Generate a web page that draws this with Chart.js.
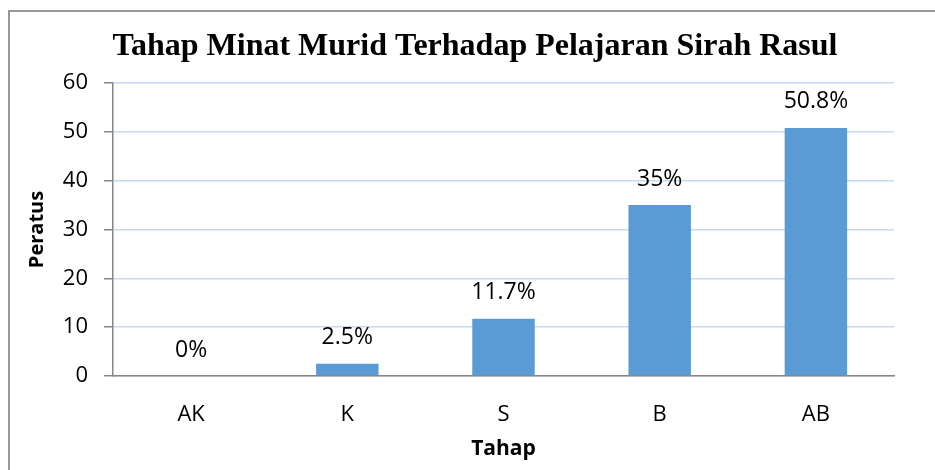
<!DOCTYPE html>
<html>
<head>
<meta charset="utf-8">
<script src="https://cdn.jsdelivr.net/npm/chart.js@4"></script>
<style>
  html, body { margin: 0; padding: 0; background: #fff; }
  #wrap { position: relative; width: 935px; height: 470px; overflow: hidden; }
  #frame { position: absolute; left: 8px; top: 10px; width: 1000px; height: 1000px;
           border-top: 2px solid #989898; border-left: 2px solid #989898; }
  canvas { position: absolute; left: 0; top: 0; }
</style>
</head>
<body>
<div id="wrap">
  <div id="frame"></div>
  <canvas id="chart" width="935" height="470"></canvas>
</div>
<script>
// data
const categories = ['AK', 'K', 'S', 'B', 'AB'];
const peratus = [0, 2.5, 11.7, 35, 50.8];
const yTicks = [0, 10, 20, 30, 40, 50, 60];
const chartTitle = 'Tahap Minat Murid Terhadap Pelajaran Sirah Rasul';

const sansFont = "'Open Sans', 'Liberation Sans', sans-serif";

// write the percentage above each bar
const barLabels = {
  id: 'barLabels',
  afterDatasetsDraw(chart) {
    const ctx = chart.ctx;
    const meta = chart.getDatasetMeta(0);
    ctx.save();
    ctx.font = '23px ' + sansFont;
    ctx.fillStyle = '#000';
    ctx.textAlign = 'center';
    ctx.textBaseline = 'middle';
    meta.data.forEach((bar, i) => {
      ctx.fillText(peratus[i] + '%', bar.x, bar.y - 26);
    });
    ctx.restore();
  }
};

// the title sits a bit right of the canvas centre in the original, so draw it here
const bigTitle = {
  id: 'bigTitle',
  afterDraw(chart) {
    const ctx = chart.ctx;
    ctx.save();
    ctx.font = "bold 32px 'Liberation Serif', 'Times New Roman', serif";
    ctx.fillStyle = '#000';
    ctx.textAlign = 'center';
    ctx.textBaseline = 'middle';
    ctx.fillText(chartTitle, 475, 47);
    ctx.restore();
  }
};

const myChart = new Chart(document.getElementById('chart'), {
  type: 'bar',
  data: {
    labels: categories,
    datasets: [{
      label: 'Peratus',
      data: peratus,
      backgroundColor: '#5B9BD5',
      borderWidth: 0,
      categoryPercentage: 1,
      barPercentage: 0.4
    }]
  },
  options: {
    responsive: false,
    animation: false,
    layout: { padding: { left: 14, right: 41, top: 83, bottom: 0 } },
    plugins: {
      legend: { display: false },
      tooltip: { enabled: false },
      title: { display: false }
    },
    scales: {
      x: {
        grid: { display: false },
        border: { display: true, color: '#868686', width: 1.5 },
        ticks: { color: '#000', font: { family: sansFont, size: 22 }, padding: 18 },
        title: {
          display: true,
          text: 'Tahap',
          color: '#000',
          font: { family: sansFont, size: 21, weight: 'bold' },
          padding: { top: 0, bottom: 8 }
        },
        afterFit(scale) { scale.height = 94; }
      },
      y: {
        min: 0,
        max: 60,
        afterBuildTicks(scale) { scale.ticks = yTicks.map(v => ({ value: v })); },
        grid: { color: '#C6DAF0', lineWidth: 1.5, tickColor: '#868686', tickLength: 9 },
        border: { display: true, color: '#868686', width: 1.5 },
        ticks: { color: '#000', font: { family: sansFont, size: 22 }, padding: 16 },
        title: {
          display: true,
          text: 'Peratus',
          color: '#000',
          font: { family: sansFont, size: 20, weight: 'bold' },
          padding: { top: 11, bottom: 0 }
        },
        afterFit(scale) { scale.width = 99; }
      }
    }
  },
  plugins: [barLabels, bigTitle]
});
</script>
</body>
</html>
